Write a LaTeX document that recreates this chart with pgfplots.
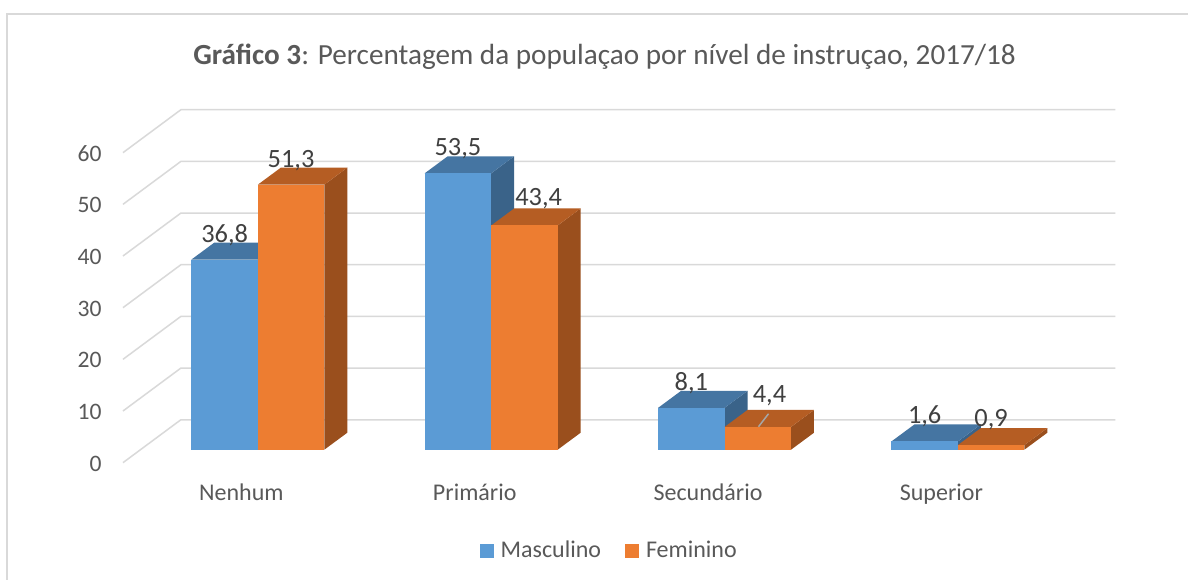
\documentclass[border=0pt]{standalone}
\usepackage{fontspec}
\setmainfont{Carlito}
\usepackage{pgfplots}
\pgfplotsset{compat=1.18}
\definecolor{mblue}{HTML}{5B9BD5}
\definecolor{mbluetop}{HTML}{4575A2}
\definecolor{mblueside}{HTML}{3A6389}
\definecolor{forg}{HTML}{ED7D31}
\definecolor{forgtop}{HTML}{B55D23}
\definecolor{forgside}{HTML}{9A4F1D}
\definecolor{gridc}{HTML}{D9D9D9}
\definecolor{txtgray}{HTML}{595959}
\definecolor{lblgray}{HTML}{404040}
\definecolor{leadgray}{HTML}{A6A6A6}
\newcommand\bw{0.2848}
\newcommand\bdx{0.0985}
\newcommand\bdy{3.29}
% #1 left x, #2 value, #3 front, #4 top, #5 side
\newcommand\tdbar[5]{%
  \pgfmathsetmacro\xa{#1}%
  \pgfmathsetmacro\xb{#1+\bw}%
  \pgfmathsetmacro\xc{#1+\bw+\bdx}%
  \pgfmathsetmacro\xd{#1+\bdx}%
  \pgfmathsetmacro\ya{#2}%
  \pgfmathsetmacro\yb{#2+\bdy}%
  \edef\tmp{%
    \noexpand\addplot[forget plot, draw=none, fill=#5] coordinates {(\xb,0) (\xc,\bdy) (\xc,\yb) (\xb,\ya)} --cycle;
    \noexpand\addplot[forget plot, draw=none, fill=#4] coordinates {(\xa,\ya) (\xb,\ya) (\xc,\yb) (\xd,\yb)} --cycle;
    \noexpand\addplot[forget plot, draw=none, fill=#3] coordinates {(\xa,0) (\xb,0) (\xb,\ya) (\xa,\ya)} --cycle;
  }\tmp
}
\begin{document}
\begin{tikzpicture}
\begin{axis}[
  scale only axis, width=594.5pt, height=290pt,
  xmin=-1.1049, xmax=3.9872, ymin=-25.145, ymax=87.04,
  clip=false,
  axis line style={draw=none}, tick style={draw=none},
  axis background/.style={fill=white},
  ytick={0,10,...,60},
  /pgf/number format/assume math mode=true,
  yticklabel style={anchor=east, inner sep=0pt, xshift=51pt, yshift=-7pt,
    font=\fontsize{11.8}{13}\selectfont, text=txtgray},
  xtick={0,1,2,3}, xticklabels={Nenhum,Primário,Secundário,Superior},
  xticklabel style={anchor=base, inner sep=0pt, yshift=39.5pt, xshift=-8.25pt,
    font=\fontsize{12}{14}\selectfont, text=txtgray},
  legend columns=2,
  legend style={at={(axis cs:1.51,-19.63)}, anchor=center, draw=none, fill=none,
    font=\fontsize{12}{14}\selectfont, text=txtgray,
    /tikz/every odd column/.append style={column sep=1.5pt},
    /tikz/every even column/.append style={column sep=10pt}},
  legend image code/.code={\fill[#1, draw=none] (0pt,-3.5pt) rectangle (7pt,3.5pt);},
]
% frame
\draw[gridc, line width=0.75pt] (axis cs:-1.0749,-25.145) |- (axis cs:3.9872,84.33);
% gridlines
\foreach \v in {0,10,...,60}{%
  \pgfmathsetmacro\ga{\v-2.51}%
  \pgfmathsetmacro\gb{\v+5.80}%
  \edef\tmp{\noexpand\addplot[forget plot, draw=gridc, line width=0.75pt] coordinates {(-0.578,\ga) (-0.3298,\gb) (3.6745,\gb)};}\tmp
}
% bars
\tdbar{-0.2848}{36.8}{mblue}{mbluetop}{mblueside}
\tdbar{0}{51.3}{forg}{forgtop}{forgside}
\tdbar{0.7152}{53.5}{mblue}{mbluetop}{mblueside}
\tdbar{1}{43.4}{forg}{forgtop}{forgside}
\tdbar{1.7152}{8.1}{mblue}{mbluetop}{mblueside}
\tdbar{2}{4.4}{forg}{forgtop}{forgside}
\tdbar{2.7152}{1.6}{mblue}{mbluetop}{mblueside}
\tdbar{3}{0.9}{forg}{forgtop}{forgside}
% leader line
\addplot[forget plot, draw=leadgray, line width=0.75pt] coordinates {(2.1884,6.96) (2.1456,4.45)};
% legend
\addlegendimage{fill=mblue, draw=none}
\addlegendentry{Masculino}
\addlegendimage{fill=forg, draw=none}
\addlegendentry{Feminino}
% data labels
\begin{scope}[every node/.style={anchor=base, inner sep=0pt, text=lblgray, font=\fontsize{13.2}{15}\selectfont}]
\node at (axis cs:-0.1424,40.2) {36,8};
\node at (axis cs:0.1424,54.7) {51,3};
\node at (axis cs:0.8576,56.9) {53,5};
\node at (axis cs:1.2034,47.3) {43,4};
\node at (axis cs:1.8576,11.5) {8,1};
\node at (axis cs:2.1927,9.09) {4,4};
\node at (axis cs:2.8576,5.1) {1,6};
\node at (axis cs:3.1424,4.4) {0,9};
\end{scope}
% title
\node[anchor=base, inner sep=0pt, text=txtgray, font=\fontsize{14.6}{17}\selectfont] at (axis cs:1.486,74.6)
  {\textbf{Gráfico 3}: Percentagem da populaçao por nível de instruçao, 2017/18};
\end{axis}
\end{tikzpicture}
\end{document}
